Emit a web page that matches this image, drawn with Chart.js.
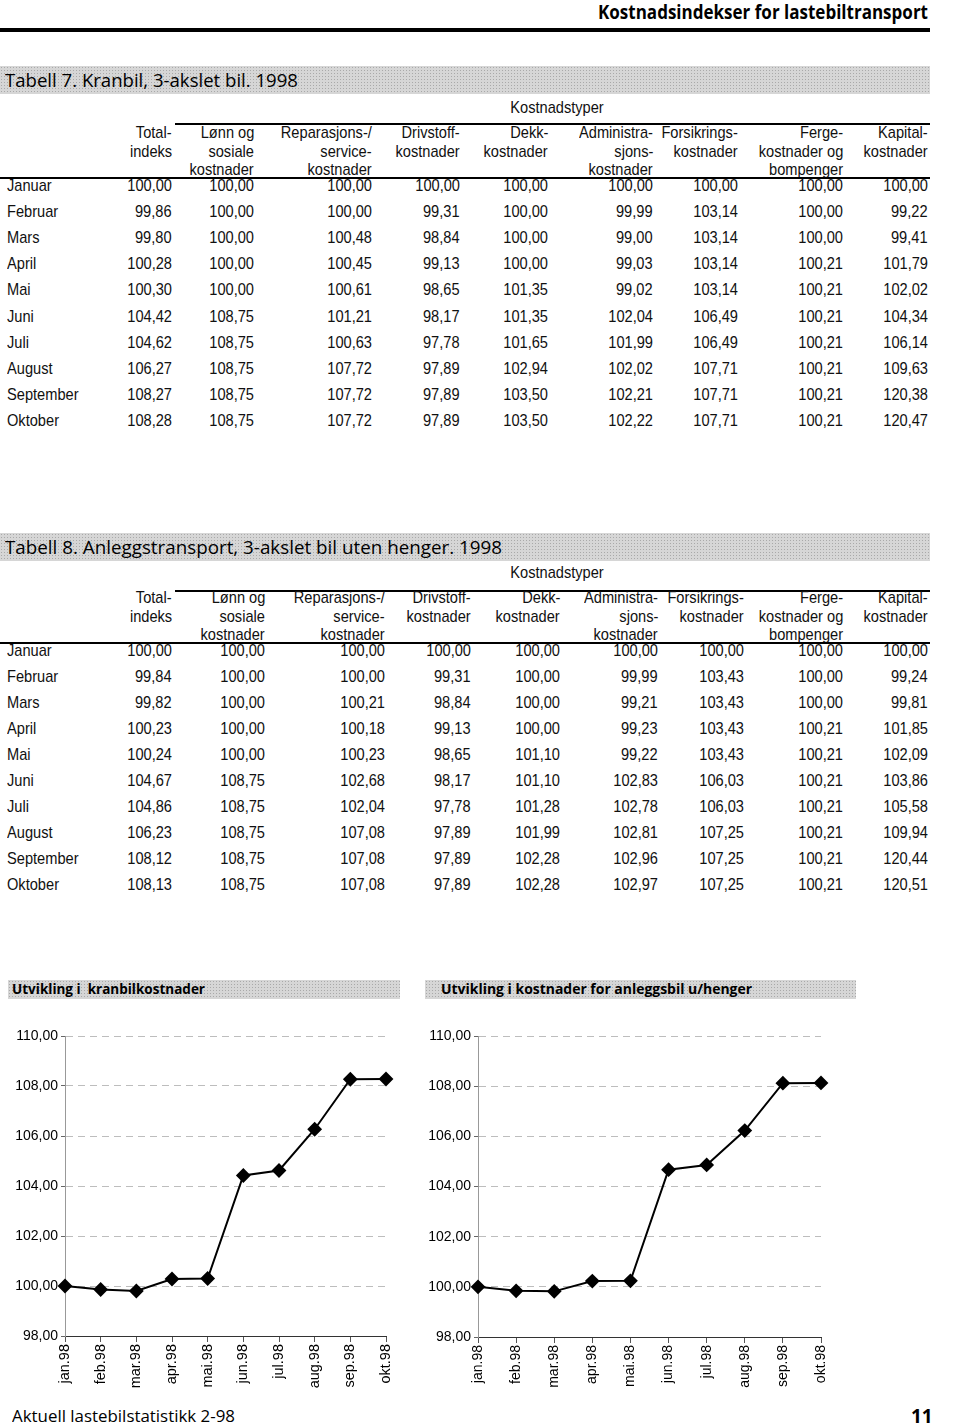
<!DOCTYPE html>
<html lang="no">

<head>
    <meta charset="UTF-8">
    <title>Kostnadsindekser for lastebiltransport</title>
    <script src="https://cdn.jsdelivr.net/npm/chart.js"></script>
    <style>
        body {
            margin: 0;
            background: #fff;
        }

        #page {
            position: relative;
            width: 960px;
            height: 1424px;
            overflow: hidden;
            color: #000;
            font-family: "Liberation Sans", Arial, sans-serif;
        }

        .abs {
            position: absolute;
            white-space: nowrap;
        }

        .cell {
            font-size: 17px;
            line-height: 20px;
            color: #111;
        }

        .bar {
            position: absolute;
            background-color: #d6d6d6;
            background-image: radial-gradient(#a9a9a9 0.7px, transparent 0.9px);
            background-size: 3px 3px;
        }

        .fit {
            transform-origin: left center;
        }

        .rule {
            position: absolute;
            background: #000;
        }

        .chart-box {
            position: absolute;
        }
    </style>
</head>

<body>
    <div id="page">
        <div class="abs fit" id="pageTitle" style="left:598px; top:0px; font:bold 19px 'Open Sans', sans-serif; line-height:24px;">Kostnadsindekser for lastebiltransport</div>
        <div class="rule" style="left:0; top:28px; width:930px; height:4px;"></div>

        <div class="bar" style="left:0; top:66px; width:930px; height:28px;"></div>
        <div class="abs fit" id="tab7Title" style="left:5px; top:66px; font:19px 'Open Sans', sans-serif; line-height:28px;">Tabell 7. Kranbil, 3-akslet bil. 1998</div>

        <div class="bar" style="left:0; top:533px; width:930px; height:28px;"></div>
        <div class="abs fit" id="tab8Title" style="left:5px; top:533px; font:19px 'Open Sans', sans-serif; line-height:28px;">Tabell 8. Anleggstransport, 3-akslet bil uten henger. 1998</div>

        <div class="bar" style="left:8px; top:980px; width:392px; height:19px;"></div>
        <div class="abs fit" id="chart1Title" style="left:12px; top:979px; font:bold 14px 'Open Sans', sans-serif; line-height:20px;">Utvikling i&nbsp; kranbilkostnader</div>
        <div class="bar" style="left:425px; top:980px; width:431px; height:19px;"></div>
        <div class="abs fit" id="chart2Title" style="left:441px; top:979px; font:bold 14px 'Open Sans', sans-serif; line-height:20px;">Utvikling i kostnader for anleggsbil u/henger</div>

        <div class="chart-box" style="left:0; top:1020px; width:420px; height:371px;">
            <canvas id="kranChart" width="420" height="371"></canvas>
        </div>
        <div class="chart-box" style="left:420px; top:1020px; width:440px; height:372px;">
            <canvas id="anleggChart" width="440" height="372"></canvas>
        </div>

        <div class="abs fit" id="footer" style="left:12px; top:1404px; font:17px 'Open Sans', sans-serif; line-height:24px;">Aktuell lastebilstatistikk 2-98</div>
        <div class="abs" style="left:911px; top:1404px; font:bold 19px 'Open Sans', sans-serif; line-height:24px;">11</div>
    </div>

    <script>
        // Months and tick labels
        const months = ['Januar', 'Februar', 'Mars', 'April', 'Mai', 'Juni', 'Juli', 'August', 'September', 'Oktober'];
        const monthTicks = ['jan.98', 'feb.98', 'mar.98', 'apr.98', 'mai.98', 'jun.98', 'jul.98', 'aug.98', 'sep.98', 'okt.98'];
        const yTicks = [98, 100, 102, 104, 106, 108, 110];

        // Column headers (same for both tables)
        const colHeaders = [
            ['Total-', 'indeks', ''],
            ['Lønn og', 'sosiale', 'kostnader'],
            ['Reparasjons-/', 'service-', 'kostnader'],
            ['Drivstoff-', 'kostnader', ''],
            ['Dekk-', 'kostnader', ''],
            ['Administra-', 'sjons-', 'kostnader'],
            ['Forsikrings-', 'kostnader', ''],
            ['Ferge-', 'kostnader og', 'bompenger'],
            ['Kapital-', 'kostnader', '']
        ];

        // Totalindeks, used in the tables and in the charts
        const kranbilIndeks = [100.00, 99.86, 99.80, 100.28, 100.30, 104.42, 104.62, 106.27, 108.27, 108.28];
        const anleggIndeks = [100.00, 99.84, 99.82, 100.23, 100.24, 104.67, 104.86, 106.23, 108.12, 108.13];

        // Cost types per month: lønn, reparasjon, drivstoff, dekk, admin, forsikring, ferge, kapital
        const kranbilTyper = [
            [100.00, 100.00, 100.00, 100.00, 100.00, 100.00, 100.00, 100.00],
            [100.00, 100.00, 99.31, 100.00, 99.99, 103.14, 100.00, 99.22],
            [100.00, 100.48, 98.84, 100.00, 99.00, 103.14, 100.00, 99.41],
            [100.00, 100.45, 99.13, 100.00, 99.03, 103.14, 100.21, 101.79],
            [100.00, 100.61, 98.65, 101.35, 99.02, 103.14, 100.21, 102.02],
            [108.75, 101.21, 98.17, 101.35, 102.04, 106.49, 100.21, 104.34],
            [108.75, 100.63, 97.78, 101.65, 101.99, 106.49, 100.21, 106.14],
            [108.75, 107.72, 97.89, 102.94, 102.02, 107.71, 100.21, 109.63],
            [108.75, 107.72, 97.89, 103.50, 102.21, 107.71, 100.21, 120.38],
            [108.75, 107.72, 97.89, 103.50, 102.22, 107.71, 100.21, 120.47]
        ];
        const anleggTyper = [
            [100.00, 100.00, 100.00, 100.00, 100.00, 100.00, 100.00, 100.00],
            [100.00, 100.00, 99.31, 100.00, 99.99, 103.43, 100.00, 99.24],
            [100.00, 100.21, 98.84, 100.00, 99.21, 103.43, 100.00, 99.81],
            [100.00, 100.18, 99.13, 100.00, 99.23, 103.43, 100.21, 101.85],
            [100.00, 100.23, 98.65, 101.10, 99.22, 103.43, 100.21, 102.09],
            [108.75, 102.68, 98.17, 101.10, 102.83, 106.03, 100.21, 103.86],
            [108.75, 102.04, 97.78, 101.28, 102.78, 106.03, 100.21, 105.58],
            [108.75, 107.08, 97.89, 101.99, 102.81, 107.25, 100.21, 109.94],
            [108.75, 107.08, 97.89, 102.28, 102.96, 107.25, 100.21, 120.44],
            [108.75, 107.08, 97.89, 102.28, 102.97, 107.25, 100.21, 120.51]
        ];

        const page = document.getElementById('page');
        const fmt = v => v.toFixed(2).replace('.', ',');
        const squeeze = 0.86; // narrow look of the scanned table font

        // squeeze a text element to a given width
        function fit(id, width) {
            const el = document.getElementById(id);
            const w = el.getBoundingClientRect().width;
            el.style.transform = 'scaleX(' + (width / w) + ')';
        }

        function put(text, x, y, align) {
            const d = document.createElement('div');
            d.className = 'abs cell';
            d.textContent = text;
            d.style.top = (y - 10) + 'px';
            if (align === 'left') {
                d.style.left = x + 'px';
                d.style.transformOrigin = 'left center';
            } else if (align === 'center') {
                d.style.left = (x - 200) + 'px';
                d.style.width = '400px';
                d.style.textAlign = 'center';
                d.style.transformOrigin = 'center center';
            } else {
                d.style.right = (960 - x) + 'px';
                d.style.transformOrigin = 'right center';
            }
            d.style.transform = 'scaleX(' + squeeze + ')';
            page.appendChild(d);
        }

        function rule(x, y, w, h) {
            const d = document.createElement('div');
            d.className = 'rule';
            d.style.cssText = 'left:' + x + 'px;top:' + y + 'px;width:' + w + 'px;height:' + h + 'px;';
            page.appendChild(d);
        }

        function drawTable(top, cols, total, types, rowGap) {
            put('Kostnadstyper', 557, top.kost, 'center');
            rule(175, top.kostLine, 755, 2);
            colHeaders.forEach((lines, c) => {
                lines.forEach((t, l) => { if (t) put(t, cols[c], top.head + l * 18.5, 'right'); });
            });
            rule(0, top.headLine, 930, 2);
            months.forEach((m, r) => {
                const y = top.rows + r * rowGap;
                put(m, 7, y, 'left');
                put(fmt(total[r]), cols[0], y, 'right');
                types[r].forEach((v, c) => put(fmt(v), cols[c + 1], y, 'right'));
            });
        }

        drawTable({ kost: 108, kostLine: 123, head: 133, headLine: 177, rows: 186 },
            [172, 254, 372, 460, 548, 653, 738, 843, 928], kranbilIndeks, kranbilTyper, 26.1);
        drawTable({ kost: 573, kostLine: 590, head: 598, headLine: 642, rows: 651 },
            [172, 265, 385, 471, 560, 658, 744, 843, 928], anleggIndeks, anleggTyper, 26);

        fit('pageTitle', 330);
        fit('tab7Title', 293);
        fit('tab8Title', 497);
        fit('chart1Title', 193);
        fit('chart2Title', 311);
        fit('footer', 223);

        // Line charts
        function makeChart(id, values, o) {
            const ctx = document.getElementById(id).getContext('2d');
            return new Chart(ctx, {
                type: 'line',
                data: {
                    labels: monthTicks,
                    datasets: [{
                        data: values,
                        borderColor: '#000',
                        borderWidth: 2,
                        tension: 0,
                        pointStyle: 'rectRot',
                        pointRadius: 6,
                        pointBackgroundColor: '#000',
                        pointBorderColor: '#000'
                    }]
                },
                options: {
                    responsive: false,
                    animation: false,
                    devicePixelRatio: 1,
                    layout: { padding: { top: 16, right: o.padRight, left: 0, bottom: 0 } },
                    plugins: { legend: { display: false }, tooltip: { enabled: false } },
                    scales: {
                        x: {
                            grid: { drawOnChartArea: false, tickLength: 6, color: '#555' },
                            border: { color: '#333', width: 1 },
                            ticks: { color: '#000', font: o.xFont, maxRotation: 90, minRotation: 90, padding: 2, autoSkip: false },
                            afterFit: s => { s.height = 55; }
                        },
                        y: {
                            min: yTicks[0],
                            max: yTicks[yTicks.length - 1],
                            afterBuildTicks: s => { s.ticks = yTicks.map(v => ({ value: v })); },
                            ticks: { color: '#000', font: o.yFont, padding: 3, callback: v => fmt(v) },
                            grid: { color: '#bdbdbd', lineWidth: 1, tickLength: 4, tickColor: '#666' },
                            border: { color: '#999', width: 1, dash: [7, 5] },
                            afterFit: s => { s.width = o.axisWidth; }
                        }
                    }
                }
            });
        }

        makeChart('kranChart', kranbilIndeks, {
            padRight: 34, axisWidth: 65,
            xFont: { family: 'Liberation Sans', size: 14.5 },
            yFont: { family: 'Liberation Sans', size: 14 }
        });
        makeChart('anleggChart', anleggIndeks, {
            padRight: 39, axisWidth: 58,
            xFont: { family: 'Liberation Sans', size: 14 },
            yFont: { family: 'Liberation Sans', size: 14 }
        });
    </script>
</body>

</html>
